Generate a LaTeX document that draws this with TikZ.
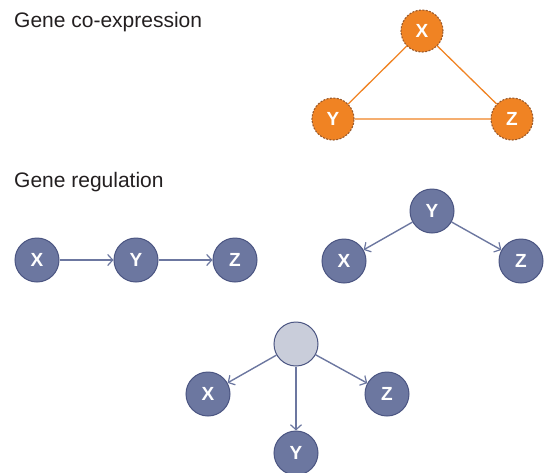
\documentclass[tikz,border=0pt]{standalone}
\usepackage{fontspec}
\setmainfont{Liberation Sans}
\usepackage{tikz}
\usetikzlibrary{arrows.meta}
\definecolor{geneorange}{HTML}{F08323}
\definecolor{genebrown}{HTML}{9A5A2C}
\definecolor{geneblue}{HTML}{6C77A0}
\definecolor{geneedge}{HTML}{4B5582}
\definecolor{genegray}{HTML}{C9CDDA}
\definecolor{titlegray}{HTML}{231F20}
\tikzset{>={Straight Barb[length=5pt,width=11pt,line width=1.2pt]}}
\tikzset{
  coexp/.style={circle,minimum size=42pt,inner sep=0pt,fill=geneorange,
    draw=genebrown,line width=1.1pt,dash pattern=on 2pt off 1.4pt,
    text=white,font=\bfseries\fontsize{19}{19}\selectfont},
  gene/.style={circle,minimum size=44pt,inner sep=0pt,fill=geneblue,
    draw=geneedge,line width=1pt,text=white,
    font=\bfseries\fontsize{19}{19}\selectfont},
  hidden/.style={gene,fill=genegray},
  corr/.style={draw=geneorange,line width=1.3pt},
  reg/.style={draw=geneblue,line width=1.4pt,->},
  title/.style={anchor=base west,inner sep=0pt,text=titlegray,
    font=\fontsize{21}{21}\selectfont}
}

\begin{document}
\begin{tikzpicture}[x=1pt,y=-1pt]
  \useasboundingbox (0,0) rectangle (547,472);
  % co-expression: undirected triangle
  \node[title] (coexptitle) at (14,27) {Gene co-expression};
  \node[coexp] (cX) at (422,31) {X};
  \node[coexp] (cY) at (333,119) {Y};
  \node[coexp] (cZ) at (512,119) {Z};
  \draw[corr] (cX) -- (cY) -- (cZ) -- (cX);

  % regulation: chain
  \node[title] (regtitle) at (14,187) {Gene regulation};
  \node[gene] (aX) at (37,260) {X};
  \node[gene] (aY) at (136,260) {Y};
  \node[gene] (aZ) at (235,260) {Z};
  \draw[reg] (aX) -- (aY);
  \draw[reg] (aY) -- (aZ);

  % regulation: fork from Y
  \node[gene] (bY) at (432,211) {Y};
  \node[gene] (bX) at (344,261) {X};
  \node[gene] (bZ) at (521,261) {Z};
  \draw[reg] (bY) -- (bX);
  \draw[reg] (bY) -- (bZ);

  % regulation: common hidden regulator
  \node[hidden] (h) at (296,344) {};
  \node[gene] (dX) at (208,394) {X};
  \node[gene] (dZ) at (387,394) {Z};
  \node[gene] (dY) at (296,453) {Y};
  \draw[reg] (h) -- (dX);
  \draw[reg] (h) -- (dY);
  \draw[reg] (h) -- (dZ);
\end{tikzpicture}
\end{document}
